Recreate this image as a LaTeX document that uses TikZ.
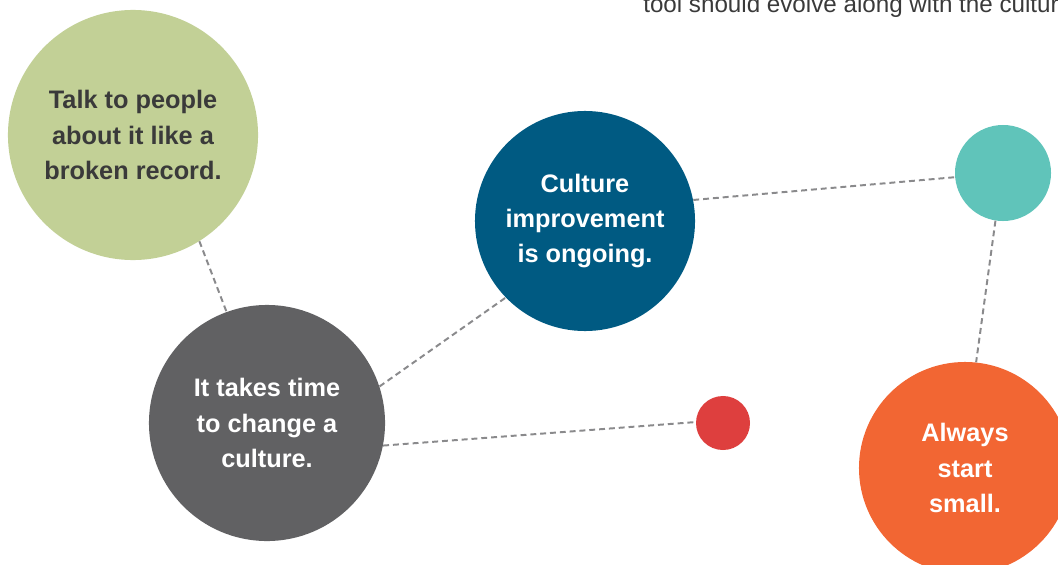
\documentclass[tikz,border=0pt]{standalone}
\usepackage{fontspec}
\setmainfont{Liberation Sans}
\usetikzlibrary{positioning}
\definecolor{sage}{HTML}{C2D096}
\definecolor{slate}{HTML}{616163}
\definecolor{deepblue}{HTML}{005A82}
\definecolor{teal}{HTML}{60C4BA}
\definecolor{signal}{HTML}{DE3F3E}
\definecolor{tangerine}{HTML}{F26633}
\definecolor{ink}{HTML}{3A3A3A}
\definecolor{linkgray}{HTML}{8A8A8C}
\tikzstyle{bub}=[circle, inner sep=0pt, align=center, text=white, font=\bfseries\fontsize{18}{25}\selectfont]
\tikzstyle{link}=[draw=linkgray, line width=1.4pt, dash pattern=on 4.2pt off 2.8pt]

\begin{document}
\begin{tikzpicture}[x=0.025cm, y=-0.025cm]
\useasboundingbox (0,0) rectangle (1058,565);
\clip (0,0) rectangle (1058,565);

\node[anchor=base west, inner sep=0pt, text=ink, font=\fontsize{17.2}{20}\selectfont] (intro) at (643,13) {tool should evolve along with the culture};

\node[bub, fill=sage, text=ink, minimum size=6.25cm] (talk) at (133,135) {Talk to people\\about it like a\\broken record.};
\node[bub, fill=slate, minimum size=5.9cm] (time) at (267,423) {It takes time\\to change a\\culture.};
\node[bub, fill=deepblue, minimum size=5.5cm] (ongoing) at (585,221) {Culture\\improvement\\is ongoing.};
\node[bub, fill=teal, minimum size=2.4cm] (dotA) at (1003,173) {};
\node[bub, fill=signal, minimum size=1.35cm] (dotB) at (723,423) {};
\node[bub, fill=tangerine, minimum size=5.3cm] (small) at (965,468) {Always\\start\\small.};

\draw[link] (talk.-58) -- (time.110);
\draw[link] (time.18) -- (ongoing.224);
\draw[link] (time.-11) -- (dotB.178);
\draw[link] (ongoing.11) -- (dotA.185);
\draw[link] (dotA.261) -- (small.84);
\end{tikzpicture}
\end{document}
